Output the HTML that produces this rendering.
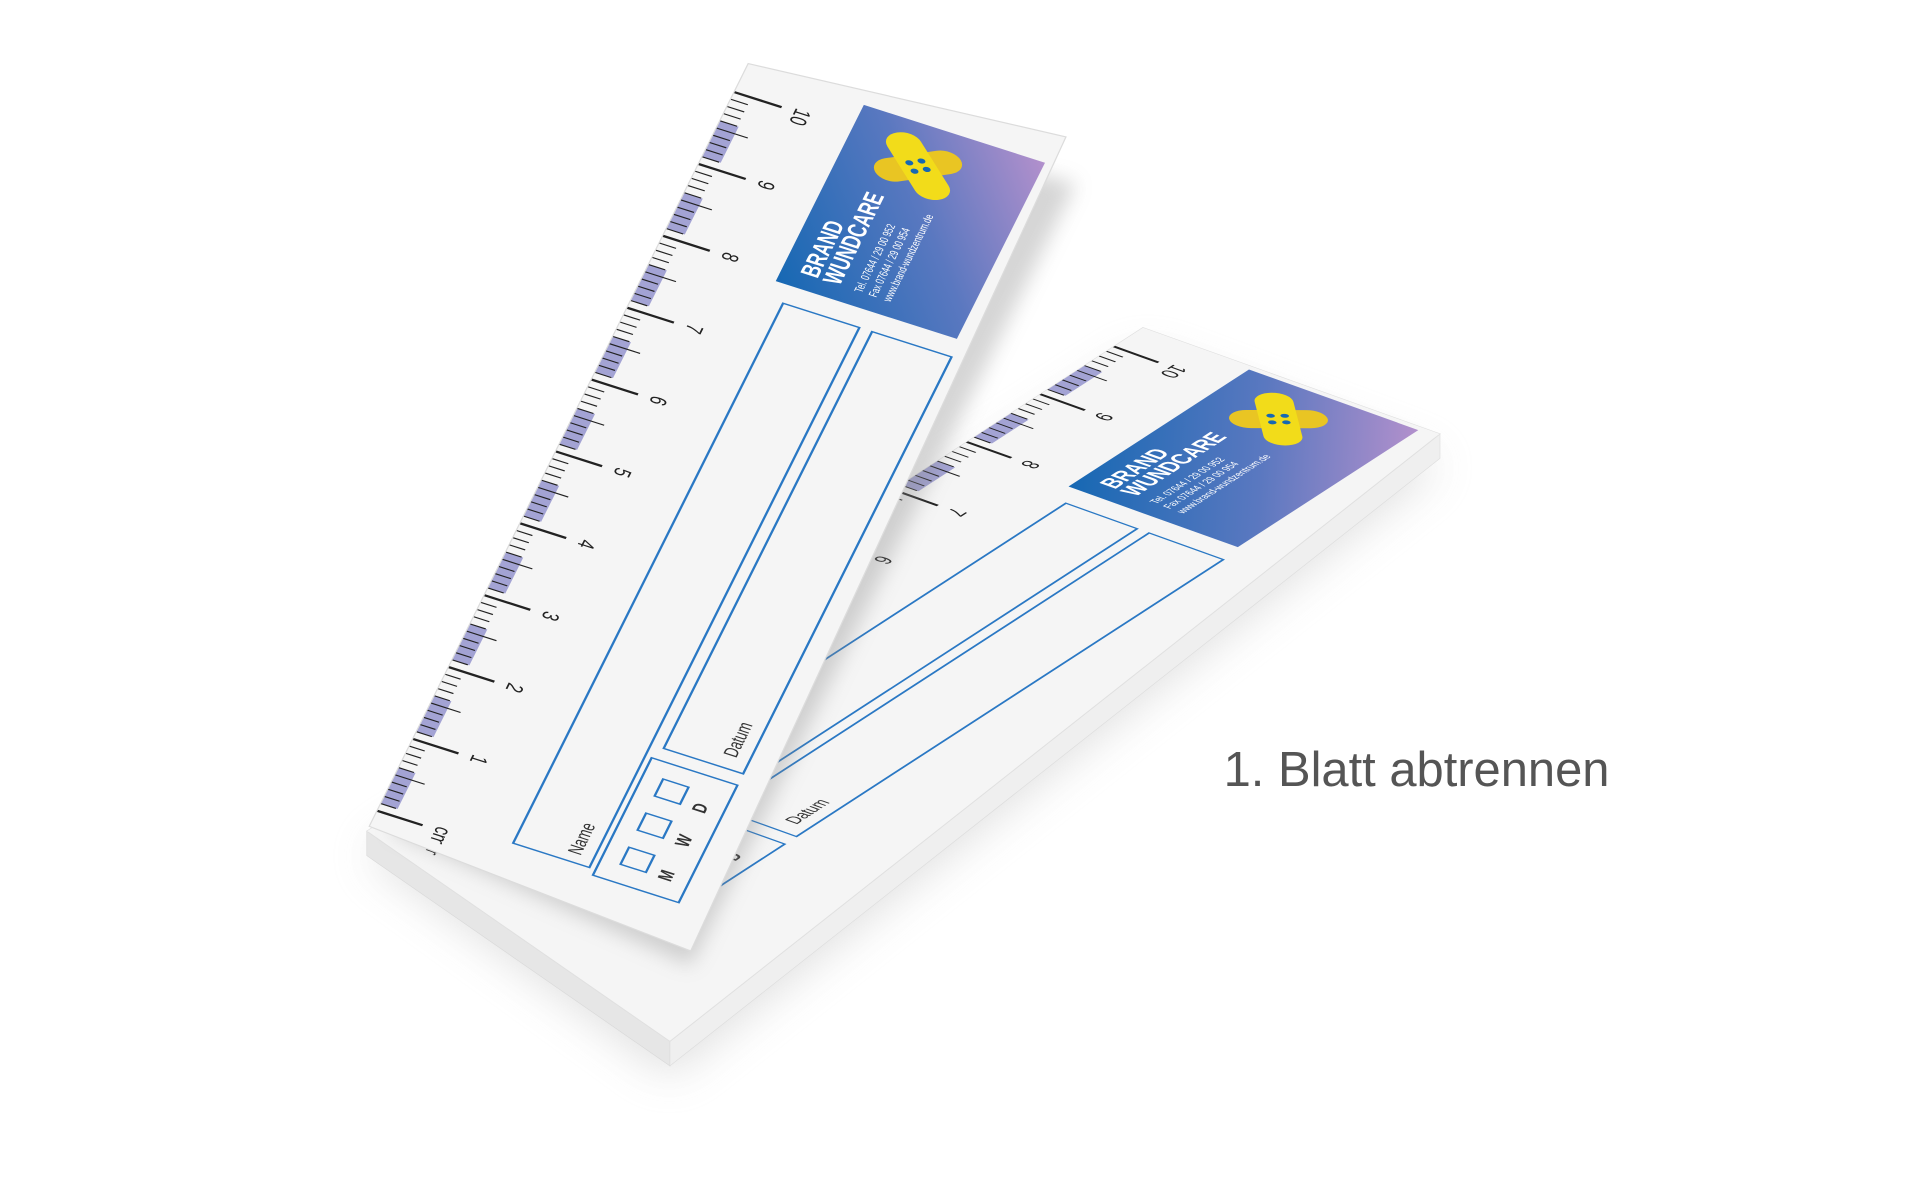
<!DOCTYPE html>
<html><head><meta charset="utf-8"><style>
html,body{margin:0;padding:0;background:#fff;width:1907px;height:1193px;overflow:hidden}
svg{display:block}
</style></head><body>
<svg id="s" width="1907" height="1193" viewBox="0 0 1560 976" xmlns="http://www.w3.org/2000/svg" xmlns:xlink="http://www.w3.org/1999/xlink">
<defs>
<linearGradient id="lg" x1="0" y1="1" x2="1" y2="0">
<stop offset="0" stop-color="#1668b3"/><stop offset="0.55" stop-color="#5a78c0"/><stop offset="1" stop-color="#b290cc"/>
</linearGradient>
<filter id="blur" x="-50%" y="-50%" width="200%" height="200%"><feGaussianBlur stdDeviation="18"/></filter>
<filter id="blur2" x="-50%" y="-50%" width="200%" height="200%"><feGaussianBlur stdDeviation="8"/></filter>
<clipPath id="cl"><rect x="0" y="0" width="100" height="400"/></clipPath>
<g id="content" clip-path="url(#cl)">
<rect x="0" y="0" width="100" height="400" fill="#f5f5f5"/>
<g id="bands"></g>
<g id="ticks" stroke="#222" stroke-width="0.55"></g>
<g id="nums" font-family="Liberation Sans, sans-serif" font-size="7" fill="#222"></g>
<rect x="37" y="2" width="57" height="93" fill="url(#lg)"/>
<g transform="translate(60,22) rotate(-40)">
<rect x="-14" y="-5.5" width="28" height="11" rx="5.5" fill="#e9c523"/>
<rect x="-5.5" y="-16" width="11" height="32" rx="5.5" fill="#f2dc1a"/>
<circle cx="-2" cy="-2" r="1.2" fill="#1668b3"/><circle cx="2" cy="-2" r="1.2" fill="#1668b3"/>
<circle cx="-2" cy="2" r="1.2" fill="#1668b3"/><circle cx="2" cy="2" r="1.2" fill="#1668b3"/>
</g>
<g font-family="Liberation Sans, sans-serif" fill="#fff">
<text transform="translate(48,88) rotate(-90)" font-size="8" font-weight="bold">BRAND</text>
<text transform="translate(55,88) rotate(-90)" font-size="8" font-weight="bold">WUNDCARE</text>
<text transform="translate(62,88) rotate(-90)" font-size="3.6">Tel. 07644 / 29 00 952</text>
<text transform="translate(66.5,88) rotate(-90)" font-size="3.6">Fax 07644 / 29 00 954</text>
<text transform="translate(71,88) rotate(-90)" font-size="3.6">www.brand-wundzentrum.de</text>
</g>
<g fill="none" stroke="#2a78c4" stroke-width="0.7">
<rect x="42" y="104" width="24" height="285"/>
<rect x="70" y="104" width="25" height="220"/>
<rect x="68" y="330" width="27" height="62"/>
<rect x="74" y="338" width="8" height="9"/>
<rect x="74" y="356" width="8" height="9"/>
<rect x="74" y="374" width="8" height="9"/>
</g>
<g font-family="Liberation Sans, sans-serif" fill="#333">
<text transform="translate(62,385) rotate(-90)" font-size="6">Name</text>
<text transform="translate(91,318) rotate(-90)" font-size="6">Datum</text>
<text transform="translate(90,348) rotate(-90)" font-size="6" font-weight="bold">D</text>
<text transform="translate(90,366) rotate(-90)" font-size="6" font-weight="bold">W</text>
<text transform="translate(90,384) rotate(-90)" font-size="6" font-weight="bold">M</text>
</g>
</g>
</defs>

<polygon points="300,700 548,880 1178,380 935,290" fill="#bbb" opacity="0.45" filter="url(#blur)"/>
<polygon points="300,680 548,852 548,872 300,700" fill="#e6e6e6" stroke="#d8d8d8" stroke-width="0.5"/>
<polygon points="548,852 1178,355 1178,375 548,872" fill="#efefef" stroke="#dcdcdc" stroke-width="0.5"/>
<polygon points="300,680 935,268 1178,355 548,852" fill="#f5f5f5" stroke="#e0e0e0" stroke-width="0.8"/>
<clipPath id="padclip"><polygon points="300,680 935,268 1178,355 548,852"/></clipPath>
<g clip-path="url(#padclip)">
<use xlink:href="#content" transform="matrix(2.43,0.87,-1.5875,1.03,935,268)"/>
</g>
<polygon points="320,680 565,790 880,150 640,90" fill="#888" opacity="0.35" filter="url(#blur2)"/>
<clipPath id="sheetclip"><polygon points="612,52 872,112 565,778 302,676"/></clipPath>
<g clip-path="url(#sheetclip)">
<rect x="0" y="0" width="1560" height="976" fill="#f5f5f5"/>
<use xlink:href="#content" transform="matrix(2.6,0.83,-0.775,1.55,612,52)"/>
</g>
<polygon points="612,52 872,112 565,778 302,676" fill="none" stroke="#dcdcdc" stroke-width="1"/>

<text x="1001" y="643" font-family="Liberation Sans, sans-serif" font-size="40" fill="#555">1. Blatt abtrennen</text>
</svg>
<script>
(function(){
var ns="http://www.w3.org/2000/svg";
var t=document.getElementById('ticks'),b=document.getElementById('bands'),n=document.getElementById('nums');
var y0=394,cm=37.9;
for(var c=0;c<10;c++){
 var r=document.createElementNS(ns,'rect');
 r.setAttribute('x',0);r.setAttribute('width',6);
 r.setAttribute('y',y0-(c+0.6)*cm);r.setAttribute('height',0.5*cm);
 r.setAttribute('fill','#a3a3d4');b.appendChild(r);
}
for(var i=0;i<=100;i++){
 var y=y0-i*cm/10,len=(i%10==0)?15:(i%5==0?10:5.5);
 var l=document.createElementNS(ns,'line');
 l.setAttribute('x1',0);l.setAttribute('x2',len);l.setAttribute('y1',y);l.setAttribute('y2',y);
 if(i%10==0)l.setAttribute('stroke-width','1.1');
 t.appendChild(l);
}
for(var k=1;k<=10;k++){
 var tx=document.createElementNS(ns,'text');
 var y=y0-k*cm;
 tx.setAttribute('transform','translate(19,'+(y-2)+') rotate(90)');
 tx.textContent=k;n.appendChild(tx);
}
var cmT=document.createElementNS(ns,'text');
cmT.setAttribute('transform','translate(19,'+(y0-2)+') rotate(90)');
cmT.textContent='cm';n.appendChild(cmT);
})();
</script>
</body></html>
